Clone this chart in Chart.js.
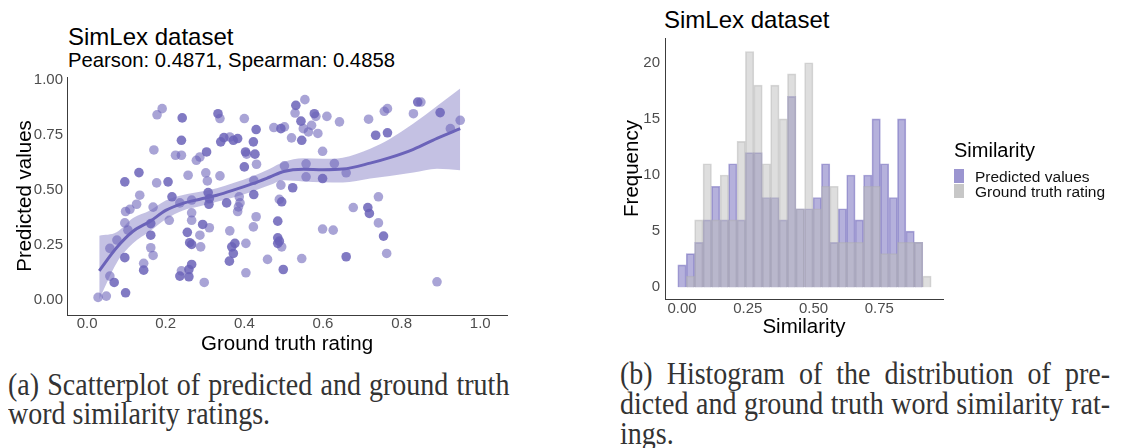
<!DOCTYPE html>
<html>
<head>
<meta charset="utf-8">
<script src="https://cdn.jsdelivr.net/npm/chart.js@4.4.1/dist/chart.umd.min.js"></script>
<style>
  body { margin: 0; background: #fff; }
  #page { position: relative; width: 1125px; height: 448px; overflow: hidden; background: #fff; }
  .abs { position: absolute; }
  .ttl { font: 24px/24px "Liberation Sans", Arial, sans-serif; color: #000; white-space: nowrap; }
  .sub { font: 20.3px/20.3px "Liberation Sans", Arial, sans-serif; color: #000; white-space: nowrap; }
  /* captions: tall serif set narrow */
  .cap { font: 32px/29.6px "Liberation Serif", "Times New Roman", serif; color: #333;
         transform: scaleX(0.875); transform-origin: 0 0; }
  .cap .full { text-align: justify; text-align-last: justify; white-space: nowrap; }
  .legTitle { font: 20px/20px "Liberation Sans", Arial, sans-serif; color: #000; white-space: nowrap; }
  .legItem { display: flex; align-items: center; height: 15px; font: 15.5px/15px "Liberation Sans", Arial, sans-serif; color: #111; white-space: nowrap; }
  .legKey { width: 10px; height: 14px; margin-right: 11px; }
</style>
</head>
<body>
<div id="page">
  <!-- left panel: scatterplot -->
  <div class="abs ttl" style="left:68px; top:24.7px;">SimLex dataset</div>
  <div class="abs sub" style="left:68px; top:49.8px;">Pearson: 0.4871, Spearman: 0.4858</div>
  <canvas id="scatter" class="abs" width="560" height="360" style="left:0; top:0;"></canvas>

  <!-- right panel: histogram -->
  <div class="abs ttl" style="left:664px; top:8px;">SimLex dataset</div>
  <canvas id="hist" class="abs" width="525" height="350" style="left:600px; top:0;"></canvas>
  <div class="abs" style="left:954px; top:139.8px;">
    <div class="legTitle">Similarity</div>
    <div id="histLegend" style="margin-top:9px;"></div>
  </div>

  <!-- captions -->
  <div class="abs cap" style="left:8px; top:369.7px; width:573px;">
    <div class="full">(a) Scatterplot of predicted and ground truth</div>
    <div>word similarity ratings.</div>
  </div>
  <div class="abs cap" style="left:620px; top:359.4px; width:560px;">
    <div class="full">(b) Histogram of the distribution of pre-</div>
    <div class="full">dicted and ground truth word similarity rat-</div>
    <div>ings.</div>
  </div>
</div>

<script>
// ---- scatterplot data: [ground truth rating, predicted value] ----
const xTicksA = [0, 0.2, 0.4, 0.6, 0.8, 1.0];
const yTicksA = [0, 0.25, 0.5, 0.75, 1.0];

const lighterPts = [
  [0.028, 0.009], [0.049, 0.015], [0.058, 0.106], [0.058, 0.232], [0.076, 0.27],
  [0.096, 0.348], [0.104, 0.315], [0.098, 0.40], [0.109, 0.41], [0.126, 0.433],
  [0.134, 0.474], [0.144, 0.164], [0.162, 0.235], [0.168, 0.20], [0.168, 0.42],
  [0.177, 0.53], [0.17, 0.68], [0.178, 0.84], [0.191, 0.868], [0.209, 0.36],
  [0.225, 0.656], [0.24, 0.656], [0.236, 0.439], [0.24, 0.13], [0.257, 0.565],
  [0.266, 0.394], [0.266, 0.36], [0.266, 0.452], [0.278, 0.633], [0.287, 0.648],
  [0.287, 0.292], [0.289, 0.239], [0.298, 0.077], [0.302, 0.576], [0.306, 0.539],
  [0.311, 0.326], [0.338, 0.823], [0.338, 0.562], [0.363, 0.312], [0.363, 0.739],
  [0.383, 0.40], [0.389, 0.439], [0.387, 0.467], [0.385, 0.421], [0.40, 0.823],
  [0.406, 0.661], [0.404, 0.121], [0.404, 0.255], [0.424, 0.542], [0.43, 0.376],
  [0.423, 0.33], [0.431, 0.615], [0.459, 0.182], [0.475, 0.782], [0.502, 0.785],
  [0.493, 0.52], [0.489, 0.455], [0.495, 0.239], [0.502, 0.608], [0.52, 0.735],
  [0.529, 0.848], [0.546, 0.186], [0.554, 0.909], [0.557, 0.617], [0.557, 0.558],
  [0.55, 0.777], [0.563, 0.762], [0.571, 0.792], [0.582, 0.833], [0.587, 0.755],
  [0.599, 0.674], [0.599, 0.32], [0.61, 0.833], [0.626, 0.315], [0.629, 0.618],
  [0.642, 0.808], [0.659, 0.576], [0.677, 0.418], [0.716, 0.82], [0.741, 0.467],
  [0.741, 0.348], [0.762, 0.209], [0.756, 0.856], [0.764, 0.868], [0.83, 0.845],
  [0.849, 0.898], [0.89, 0.08], [0.924, 0.777], [0.949, 0.815]
];

const darkerPts = [
  [0.098, 0.03], [0.069, 0.077], [0.096, 0.19], [0.096, 0.535], [0.132, 0.577],
  [0.144, 0.133], [0.162, 0.292], [0.162, 0.345], [0.206, 0.535], [0.216, 0.467],
  [0.242, 0.826], [0.24, 0.724], [0.236, 0.106], [0.259, 0.136], [0.259, 0.103],
  [0.266, 0.159], [0.261, 0.258], [0.255, 0.305], [0.266, 0.25], [0.294, 0.341],
  [0.304, 0.671], [0.308, 0.486], [0.311, 0.459], [0.31, 0.433], [0.333, 0.845],
  [0.34, 0.717], [0.348, 0.736], [0.355, 0.439], [0.372, 0.724], [0.368, 0.239],
  [0.372, 0.209], [0.362, 0.174], [0.376, 0.255], [0.383, 0.732], [0.40, 0.603],
  [0.403, 0.671], [0.423, 0.717], [0.427, 0.661], [0.43, 0.773], [0.424, 0.477],
  [0.493, 0.777], [0.495, 0.444], [0.485, 0.356], [0.485, 0.28], [0.489, 0.265],
  [0.485, 0.255], [0.499, 0.136], [0.523, 0.508], [0.531, 0.883], [0.544, 0.811],
  [0.546, 0.724], [0.578, 0.845], [0.599, 0.55], [0.659, 0.194], [0.714, 0.418],
  [0.718, 0.391], [0.734, 0.747], [0.754, 0.288], [0.764, 0.758], [0.841, 0.898],
  [0.898, 0.85]
];

// loess fit and its confidence band
const smoothX = [0.031, 0.075, 0.117, 0.16, 0.2, 0.244, 0.287, 0.33, 0.372, 0.423,
                 0.465, 0.5, 0.55, 0.6, 0.65, 0.72, 0.77, 0.83, 0.89, 0.949];
const smoothY = [0.13, 0.235, 0.31, 0.355, 0.405, 0.437, 0.456, 0.474, 0.497, 0.528,
                 0.557, 0.582, 0.592, 0.59, 0.593, 0.62, 0.645, 0.683, 0.733, 0.777];
const bandLow = [0.0, 0.165, 0.255, 0.31, 0.365, 0.405, 0.424, 0.444, 0.464, 0.492,
                 0.52, 0.542, 0.537, 0.533, 0.532, 0.55, 0.562, 0.578, 0.595, 0.588];
const bandHigh = [0.29, 0.305, 0.37, 0.405, 0.45, 0.475, 0.49, 0.506, 0.53, 0.562,
                  0.595, 0.625, 0.642, 0.64, 0.645, 0.686, 0.73, 0.8, 0.88, 0.96];

// ---- histogram data (30 bins) ----
const binCenters = [0.000, 0.032, 0.064, 0.096, 0.128, 0.161, 0.193, 0.225, 0.257, 0.289,
                    0.321, 0.353, 0.385, 0.417, 0.449, 0.482, 0.514, 0.546, 0.578, 0.610,
                    0.642, 0.674, 0.706, 0.738, 0.770, 0.803, 0.835, 0.867, 0.899, 0.931];
const predictedCounts = [2, 3, 4, 6, 9, 6, 11, 6, 12, 12, 8, 8, 6, 17, 7,
                         7, 8, 11, 4, 7, 10, 6, 10, 15, 11, 8, 15, 5, 4, 0];
const truthCounts = [0, 1, 6, 11, 6, 10, 6, 13, 21, 18, 11, 18, 15, 19, 7,
                     20, 7, 9, 9, 4, 4, 4, 9, 9, 3, 3, 4, 4, 4, 1];
const xTicksB = [0, 0.25, 0.5, 0.75];
const yTicksB = [0, 5, 10, 15, 20];

const PURPLE = '107, 99, 185';
const SANS = '"Liberation Sans", Arial, sans-serif';
const AXIS_COLOR = '#3c3c3c';
const TICK_COLOR = '#4d4d4d';

const toXY = pts => pts.map(([x, y]) => ({ x, y }));
const zip = (xs, ys) => xs.map((x, i) => ({ x, y: ys[i] }));

// shared axis styling, ggplot classic look
function axis(min, max, ticks, fmt, title, fixedSize, titlePad, tickPad) {
  return {
    type: 'linear',
    min, max,
    offset: false,
    grid: { display: false, drawTicks: false, offset: false },
    border: { display: true, color: AXIS_COLOR, width: 1 },
    ticks: {
      color: TICK_COLOR,
      padding: tickPad,
      font: { family: SANS, size: 15 },
      callback: fmt
    },
    title: {
      display: true,
      text: title,
      color: '#000',
      font: { family: SANS, size: 20.5 },
      padding: titlePad
    },
    afterBuildTicks: s => { s.ticks = ticks.map(v => ({ value: v })); },
    afterFit: s => {
      if (s.isHorizontal()) s.height = fixedSize; else s.width = fixedSize;
    }
  };
}

Chart.defaults.font.family = SANS;

// ---- scatterplot ----
new Chart(document.getElementById('scatter'), {
  type: 'scatter',
  data: {
    datasets: [
      {
        label: 'fit',
        data: zip(smoothX, smoothY),
        showLine: true,
        borderColor: `rgb(${PURPLE})`,
        borderWidth: 3,
        pointRadius: 0,
        cubicInterpolationMode: 'monotone',
        order: 0
      },
      {
        label: 'band upper',
        data: zip(smoothX, bandHigh),
        showLine: true,
        borderWidth: 0,
        borderColor: 'rgba(0,0,0,0)',
        backgroundColor: `rgba(${PURPLE}, 0.4)`,
        pointRadius: 0,
        cubicInterpolationMode: 'monotone',
        fill: '+1',
        order: 1
      },
      {
        label: 'band lower',
        data: zip(smoothX, bandLow),
        showLine: true,
        borderWidth: 0,
        borderColor: 'rgba(0,0,0,0)',
        pointRadius: 0,
        cubicInterpolationMode: 'monotone',
        fill: false,
        order: 1
      },
      {
        label: 'darker',
        data: toXY(darkerPts),
        backgroundColor: `rgba(${PURPLE}, 0.85)`,
        borderWidth: 0,
        pointRadius: 4.8,
        order: 2
      },
      {
        label: 'lighter',
        data: toXY(lighterPts),
        backgroundColor: `rgba(${PURPLE}, 0.58)`,
        borderWidth: 0,
        pointRadius: 4.8,
        order: 3
      }
    ]
  },
  options: {
    responsive: false,
    animation: false,
    layout: { padding: { top: 77, right: 53, left: 0, bottom: 0 } },
    plugins: { legend: { display: false }, tooltip: { enabled: false } },
    scales: {
      x: axis(-0.051, 1.068, xTicksA, v => v.toFixed(1), 'Ground truth rating', 45,
              { top: 0, bottom: 3 }, 0),
      y: axis(-0.071, 1.012, yTicksA, v => v.toFixed(2), 'Predicted values', 67,
              { top: 13, bottom: 0 }, 4)
    }
  }
});

// ---- histogram ----
const histLegendPlugin = {
  id: 'histLegend',
  afterUpdate(chart) {
    const box = document.getElementById('histLegend');
    box.innerHTML = '';
    const keyColors = [`rgba(${PURPLE}, 0.68)`, 'rgba(185, 185, 185, 0.8)'];
    chart.data.datasets.forEach((ds, i) => {
      const row = document.createElement('div');
      row.className = 'legItem';
      const key = document.createElement('span');
      key.className = 'legKey';
      key.style.background = keyColors[i];
      row.appendChild(key);
      row.appendChild(document.createTextNode(ds.label));
      box.appendChild(row);
    });
  }
};

new Chart(document.getElementById('hist'), {
  type: 'bar',
  data: {
    datasets: [
      {
        label: 'Predicted values',
        data: zip(binCenters, predictedCounts),
        backgroundColor: `rgba(${PURPLE}, 0.5)`,
        borderColor: `rgba(${PURPLE}, 0.55)`,
        borderWidth: 1,
        grouped: false,
        barPercentage: 1,
        categoryPercentage: 1,
        order: 1
      },
      {
        label: 'Ground truth rating',
        data: zip(binCenters, truthCounts),
        backgroundColor: 'rgba(189, 189, 189, 0.5)',
        borderColor: 'rgba(175, 175, 175, 0.5)',
        borderWidth: 1,
        grouped: false,
        barPercentage: 1,
        categoryPercentage: 1,
        order: 0
      }
    ]
  },
  options: {
    responsive: false,
    animation: false,
    layout: { padding: { top: 38, right: 182, left: 0, bottom: 0 } },
    plugins: { legend: { display: false }, tooltip: { enabled: false } },
    scales: {
      x: axis(-0.0646, 0.992, xTicksB, v => v.toFixed(2), 'Similarity', 51,
              { top: 0, bottom: 10 }, 1),
      y: axis(-1.04, 22.2, yTicksB, v => String(v), 'Frequency', 65,
              { top: 20, bottom: 0 }, 5)
    }
  },
  plugins: [histLegendPlugin]
});
</script>
</body>
</html>
